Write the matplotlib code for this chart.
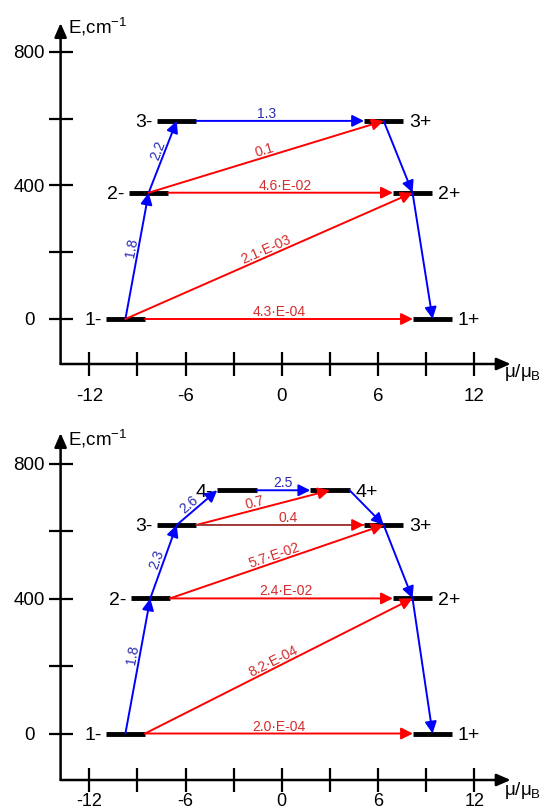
import math
import matplotlib
matplotlib.use('Agg')
import matplotlib.pyplot as plt

plt.rcParams['font.family'] = ['Liberation Sans', 'DejaVu Sans']
plt.rcParams['mathtext.fontset'] = 'custom'
plt.rcParams['mathtext.rm'] = 'Liberation Sans'
plt.rcParams['mathtext.it'] = 'Liberation Sans:italic'
plt.rcParams['mathtext.default'] = 'regular'

# ---------------- data ----------------
x_major = [-12, -6, 0, 6, 12]
x_major_labels = ['-12', '-6', '0', '6', '12']
x_minor = [-9, -3, 3, 9]
y_major = [0, 400, 800]
y_major_labels = ['0', '400', '800']
y_minor = [200, 600]

# panel (a): energy levels
a_names = ['1-', '2-', '3-', '1+', '2+', '3+']
a_mu = [-9.75, -8.3, -6.55, 9.4, 8.15, 6.35]
a_E = [0, 378, 593, 0, 378, 593]

# panel (a): transitions
a_from = ['1-', '2-', '3-', '3+', '2+', '2-', '2-', '1-', '1-']
a_to = ['2-', '3-', '3+', '2+', '1+', '3+', '2+', '2+', '1+']
a_start = ['c', 'c', 'r', 'c', 'c', 'c', 'r', 'c', 'r']
a_end = ['c', 'c', 'l', 'c', 'c', 'c', 'l', 'c', 'l']
a_text = ['1.8', '2.2', '1.3', '', '', '0.1', '4.6·E-02', '2.1·E-03', '4.3·E-04']
a_kind = ['blue', 'blue', 'blue', 'blue', 'blue', 'red', 'red', 'red', 'red']
a_frac = [0.55, 0.55, 0.42, 0.5, 0.5, 0.5, 0.52, 0.5, 0.5]

# panel (b): energy levels
b_names = ['1-', '2-', '3-', '4-', '1+', '2+', '3+', '4+']
b_mu = [-9.75, -8.2, -6.55, -2.8, 9.4, 8.15, 6.35, 3.0]
b_E = [0, 401, 619, 722, 0, 401, 619, 722]

# panel (b): transitions
b_from = ['1-', '2-', '3-', '4-', '4+', '3+', '2+', '3-', '3-', '2-', '2-', '1-', '1-']
b_to = ['2-', '3-', '4-', '4+', '3+', '2+', '1+', '4+', '3+', '3+', '2+', '2+', '1+']
b_start = ['c', 'c', 'c', 'r', 'r', 'c', 'c', 'r', 'r', 'r', 'r', 'r', 'r']
b_end = ['c', 'c', 'l', 'l', 'c', 'c', 'c', 'c', 'l', 'c', 'l', 'c', 'l']
b_text = ['1.8', '2.3', '2.6', '2.5', '', '', '', '0.7', '0.4',
          '5.7·E-02', '2.4·E-02', '8.2·E-04', '2.0·E-04']
b_kind = ['blue'] * 7 + ['red', 'brown', 'red', 'red', 'red', 'red']
b_frac = [0.57, 0.5, 0.42, 0.5, 0.5, 0.5, 0.5, 0.45, 0.55, 0.5, 0.52, 0.49, 0.5]

# ---------------- style ----------------
W = 2.45
LINE = {'blue': '#0000ff', 'red': '#ff0000', 'brown': '#a33a3a'}
HEAD = {'blue': '#0000ff', 'red': '#ff0000', 'brown': '#ff0000'}
TXT = {'blue': '#2a2ab4', 'red': '#d42c2c', 'brown': '#d42c2c'}
ARROW = '-|>,head_length=0.5,head_width=0.25'
XLIM = (-13.79, 14.27)


def anchor(mu, a):
    return mu + {'c': 0.0, 'l': -W / 2, 'r': W / 2}[a]


def panel(ax, ylim, names, mus, Es, frm, to, st, en, txt, kind, frac,
          ylab_y, xlab_y, xpad, xfs):
    ax.set_xlim(*XLIM)
    ax.set_ylim(*ylim)
    for s in ax.spines.values():
        s.set_visible(False)
    ax.patch.set_visible(False)

    # axes with arrows
    ap = dict(arrowstyle='-|>,head_length=0.6,head_width=0.26', lw=1.8, color='k',
              shrinkA=0, shrinkB=0, mutation_scale=14)
    ax.annotate('', xy=(1, 0), xytext=(0, 0), xycoords='axes fraction',
                textcoords='axes fraction', arrowprops=ap, annotation_clip=False)
    ax.annotate('', xy=(0, 1), xytext=(0, 0), xycoords='axes fraction',
                textcoords='axes fraction', arrowprops=ap, annotation_clip=False)

    ax.tick_params(axis='both', which='both', direction='inout', length=17.3,
                   width=1.6, color='k', labelsize=13.5)
    ax.tick_params(axis='x', which='both', pad=xpad, labelsize=xfs)
    ax.tick_params(axis='y', which='both', pad=14.1)
    ax.set_xticks(x_major, labels=x_major_labels)
    ax.set_xticks(x_minor, minor=True)
    ax.set_yticks(y_major, labels=y_major_labels)
    ax.set_yticks(y_minor, minor=True)
    for t in ax.get_yticklabels():
        t.set_horizontalalignment('center')

    ax.text(0.016, ylab_y, r'E,cm$^{-1}$', transform=ax.transAxes, ha='left',
            va='center', fontsize=13.5)
    ax.text(0.985, xlab_y, r'$μ/μ_B$', transform=ax.transAxes, ha='left',
            va='center', fontsize=13.5)

    pos = {n: (m, e) for n, m, e in zip(names, mus, Es)}
    for n, m, e in zip(names, mus, Es):
        ax.plot([m - W / 2, m + W / 2], [e, e], color='k', lw=3.5,
                solid_capstyle='butt', zorder=3)
        if n.endswith('-'):
            ax.annotate(n, xy=(m - W / 2, e), xytext=(-3, -1.4), textcoords='offset points',
                        ha='right', va='center', fontsize=14)
        else:
            ax.annotate(n, xy=(m + W / 2, e), xytext=(4, -1.4), textcoords='offset points',
                        ha='left', va='center', fontsize=14)

    for f, t, s, e_, lab, k, fr in zip(frm, to, st, en, txt, kind, frac):
        x0, y0 = anchor(pos[f][0], s), pos[f][1]
        x1, y1 = anchor(pos[t][0], e_), pos[t][1]
        if k == 'brown':
            ax.annotate('', xy=(x1, y1), xytext=(x0, y0),
                        arrowprops=dict(arrowstyle='-', color=LINE[k], lw=1.4,
                                        shrinkA=0, shrinkB=0), zorder=4)
            ax.annotate('', xy=(x1, y1), xytext=(x1 - 0.62, y1),
                        arrowprops=dict(arrowstyle=ARROW, color=HEAD[k], lw=1.4,
                                        shrinkA=0, shrinkB=0, mutation_scale=14), zorder=4)
        else:
            ax.annotate('', xy=(x1, y1), xytext=(x0, y0),
                        arrowprops=dict(arrowstyle=ARROW, color=LINE[k], lw=1.4,
                                        shrinkA=0, shrinkB=0, mutation_scale=14), zorder=4)
        if lab:
            p0 = ax.transData.transform((x0, y0))
            p1 = ax.transData.transform((x1, y1))
            ang = math.degrees(math.atan2(p1[1] - p0[1], p1[0] - p0[0]))
            xm, ym = x0 + fr * (x1 - x0), y0 + fr * (y1 - y0)
            nx, ny = -math.sin(math.radians(ang)), math.cos(math.radians(ang))
            off = 5.0
            ax.annotate(lab, xy=(xm, ym), xytext=(nx * off, ny * off),
                        textcoords='offset points', rotation=ang, rotation_mode='anchor',
                        ha='center', va='center', fontsize=10, color=TXT[k], zorder=5)


fig = plt.figure(figsize=(5.43, 8.11), dpi=100)
ax1 = fig.add_axes([60.6 / 543, 1 - 364 / 811, 450.1 / 543, 341 / 811])
ax2 = fig.add_axes([60.6 / 543, 1 - 780 / 811, 450.1 / 543, 347 / 811])

panel(ax1, (-134.7, 886.0), a_names, a_mu, a_E, a_from, a_to, a_start, a_end,
      a_text, a_kind, a_frac, 0.988, -0.0255, 8.6, 13.5)
panel(ax2, (-138.0, 892.0), b_names, b_mu, b_E, b_from, b_to, b_start, b_end,
      b_text, b_kind, b_frac, 0.983, -0.031, 1.0, 13.0)

fig.savefig('out.png', dpi=100)
